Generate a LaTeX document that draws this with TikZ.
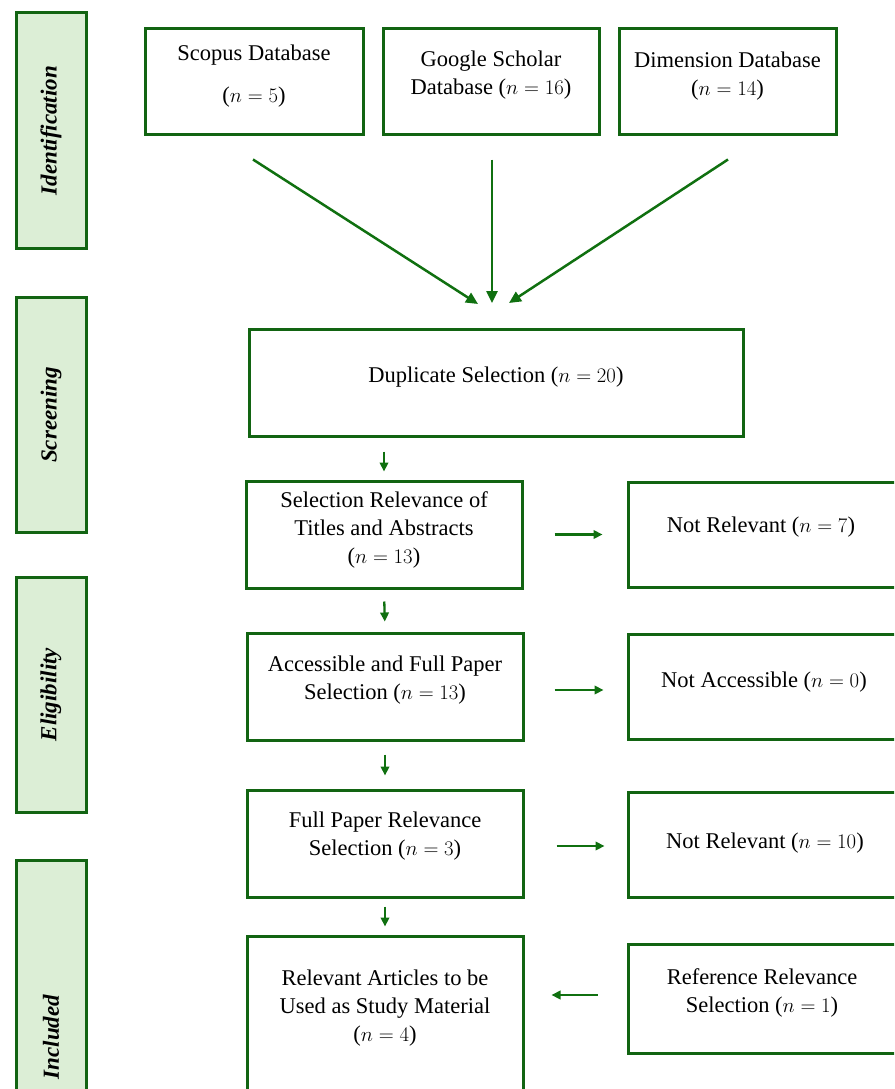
\documentclass[tikz,border=0pt]{standalone}
\usepackage{fontspec}
\setmainfont{Liberation Serif}
\usetikzlibrary{arrows.meta,calc}
\definecolor{frame}{RGB}{18,100,18}
\definecolor{arrowgreen}{RGB}{16,112,16}
\definecolor{stagefill}{RGB}{220,238,214}
\begin{document}
\begin{tikzpicture}[x=1pt,y=-1pt,
  box/.style={draw=frame,line width=3pt,rectangle,inner sep=0pt,fill=white},
  stage/.style={draw=frame,line width=3pt,fill=stagefill,rectangle,
    minimum width=70pt,minimum height=235pt,inner sep=0pt},
  stagetext/.style={font=\fontsize{23}{26}\selectfont\bfseries\itshape,rotate=90,inner sep=0pt},
  txt/.style={font=\fontsize{22.5}{28}\selectfont,align=center,inner sep=0pt},
  bigarrow/.style={draw=arrowgreen,line width=2.5pt,-{Triangle[length=12pt,width=11pt]}},
  smallarrow/.style={draw=arrowgreen,line width=2.3pt,-{Triangle[length=9pt,width=8.5pt]}}
]
\useasboundingbox (0,0) rectangle (894,1089);
\clip (0,0) rectangle (894,1089);

% stage bars on the left
\node[stage] (ident) at (51,130.5) {};
\node[stagetext] at (ident.center) {Identification};
\node[stage] (screen) at (51,415) {};
\node[stagetext] at (screen.center) {Screening};
\node[stage] (elig) at (51,694.5) {};
\node[stagetext] at (elig.center) {Eligibility};
\node[stage] (incl) at (51,978) {};
\node[stagetext] at (51,1037) {Included};

% database sources
\node[box,minimum width=218pt,minimum height=106pt] (scopus) at (254,82) {};
\node[txt] (scopus-t) at (254,76) {Scopus Database\\[14pt]($n = 5$)};
\node[box,minimum width=216pt,minimum height=106pt] (google) at (491,82) {};
\node[txt] (google-t) at (491,75) {Google Scholar\\Database ($n = 16$)};
\node[box,minimum width=217pt,minimum height=106pt] (dimension) at (727.5,82) {};
\node[txt] (dimension-t) at (727.5,76) {Dimension Database\\($n = 14$)};

% main column
\node[box,minimum width=494pt,minimum height=107pt] (dup) at (496,382.5) {};
\node[txt] (dup-t) at (496,377) {Duplicate Selection ($n = 20$)};
\node[box,minimum width=276pt,minimum height=107pt] (selrel) at (384,534.5) {};
\node[txt] (selrel-t) at (384,530) {Selection Relevance of\\Titles and Abstracts\\($n = 13$)};
\node[box,minimum width=276pt,minimum height=107pt] (access) at (385,686.5) {};
\node[txt] (access-t) at (385,680.5) {Accessible and Full Paper\\Selection ($n = 13$)};
\node[box,minimum width=276pt,minimum height=107pt] (fullpaper) at (385,843.5) {};
\node[txt] (fullpaper-t) at (385,836) {Full Paper Relevance\\Selection ($n = 3$)};
\node[box,minimum width=276pt,minimum height=170pt] (articles) at (385,1021) {};
\node[txt] (articles-t) at (385,1008) {Relevant Articles to be\\Used as Study Material\\($n = 4$)};

% side column
\node[box,minimum width=276pt,minimum height=105pt] (notrel7) at (766,534.5) {};
\node[txt] (notrel7-t) at (761,527) {Not Relevant ($n = 7$)};
\node[box,minimum width=276pt,minimum height=105pt] (notacc) at (766,686.5) {};
\node[txt] (notacc-t) at (764,682) {Not Accessible ($n = 0$)};
\node[box,minimum width=276pt,minimum height=105pt] (notrel10) at (766,844.5) {};
\node[txt] (notrel10-t) at (765,843) {Not Relevant ($n = 10$)};
\node[box,minimum width=276pt,minimum height=109pt] (refrel) at (766,998.5) {};
\node[txt] (refrel-t) at (762,993) {Reference Relevance\\Selection ($n = 1$)};

% converging arrows from the databases
\coordinate (in1) at (478,304);
\coordinate (in2) at (492,303);
\coordinate (in3) at (509,303);
\draw[bigarrow] (scopus.south) ++(-1,23) -- (in1);
\draw[bigarrow] (google.south) ++(1,23) -- (in2);
\draw[bigarrow] (dimension.south) ++(0.5,23) -- (in3);

% downward arrows in the main column
\draw[smallarrow,shorten <=14pt,shorten >=8pt] (selrel.north |- dup.south) -- (selrel.north);
\draw[smallarrow,shorten <=12pt,shorten >=10pt] (selrel.south) -- (access.north);
\draw[smallarrow,shorten <=13pt,shorten >=13pt] (access.south) -- (fullpaper.north);
\draw[smallarrow,shorten <=8pt,shorten >=8pt] (fullpaper.south) -- (articles.north);

% side arrows
\draw[smallarrow,shorten <=31pt,shorten >=24pt] (selrel.east) -- (selrel.east -| notrel7.west);
\draw[smallarrow,shorten <=30pt,shorten >=23pt] ([yshift=-3.5pt]access.east) -- ([yshift=-3.5pt]access.east -| notacc.west);
\draw[smallarrow,shorten <=32pt,shorten >=22pt] ([yshift=-2.5pt]fullpaper.east) -- ([yshift=-2.5pt]fullpaper.east -| notrel10.west);
\draw[smallarrow,shorten <=29pt,shorten >=27pt] ([yshift=3.5pt]refrel.west) -- ([yshift=3.5pt]refrel.west -| articles.east);
\end{tikzpicture}
\end{document}
